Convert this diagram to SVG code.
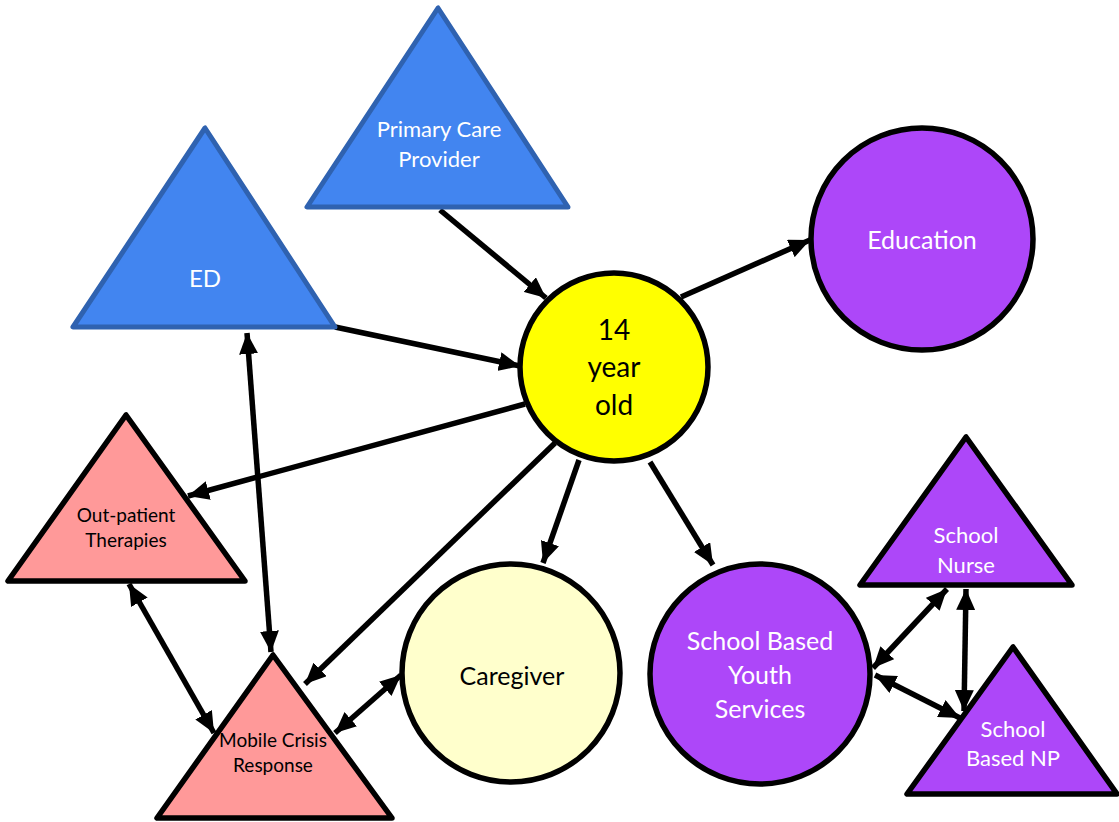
<svg xmlns="http://www.w3.org/2000/svg" width="1119" height="822" viewBox="0 0 1119 822">
<defs>
<marker id="ah" viewBox="0 0 21 19" refX="21" refY="9.5" markerWidth="21" markerHeight="19" markerUnits="userSpaceOnUse" orient="auto-start-reverse">
<path d="M0,0 L21,9.5 L0,19 Z" fill="#000"/>
</marker>
<style>
.blue{fill:#4285F0;stroke:#2F62B0;stroke-width:5;stroke-linejoin:round}
.pink{fill:#FF9999;stroke:#000;stroke-width:5.5;stroke-linejoin:round}
.purp{fill:#AD47F9;stroke:#000;stroke-width:5.5;stroke-linejoin:round}
.yel{fill:#FFFF00;stroke:#000;stroke-width:5.5}
.cream{fill:#FFFFCC;stroke:#000;stroke-width:5.5}
text{font-family:Lato,"Noto Sans",sans-serif;text-anchor:middle}
.w{fill:#fff}
.k{fill:#000}
.con line{stroke:#000;stroke-width:5.5;fill:none}
</style>
</defs>
<rect width="1119" height="822" fill="#fff"/>
<g id="connectors" class="con">
<line x1="440" y1="210" x2="546" y2="298" marker-end="url(#ah)"/>
<line x1="335" y1="327" x2="520" y2="366" marker-end="url(#ah)"/>
<line x1="681" y1="297" x2="810" y2="240" marker-end="url(#ah)"/>
<line x1="525" y1="404" x2="188" y2="496" marker-end="url(#ah)"/>
<line x1="555" y1="443" x2="305" y2="684" marker-end="url(#ah)"/>
<line x1="579" y1="460" x2="543" y2="563" marker-end="url(#ah)"/>
<line x1="650" y1="462" x2="713" y2="565" marker-end="url(#ah)"/>
<line x1="247" y1="333" x2="271" y2="652" marker-start="url(#ah)" marker-end="url(#ah)"/>
<line x1="129" y1="584" x2="214" y2="733" marker-start="url(#ah)" marker-end="url(#ah)"/>
<line x1="335" y1="733" x2="401" y2="675" marker-start="url(#ah)" marker-end="url(#ah)"/>
<line x1="873" y1="668" x2="947" y2="589" marker-start="url(#ah)" marker-end="url(#ah)"/>
<line x1="875" y1="675" x2="960" y2="718" marker-start="url(#ah)" marker-end="url(#ah)"/>
<line x1="966" y1="589" x2="964" y2="711" marker-start="url(#ah)" marker-end="url(#ah)"/>
</g>
<g id="pcp">
<polygon class="blue" points="438,8 307,207 568,207"/>
<text class="w" x="439" y="137" font-size="22">Primary Care</text>
<text class="w" x="439" y="167" font-size="22">Provider</text>
</g>
<g id="ed">
<polygon class="blue" points="205,128 73,327 335,327"/>
<text class="w" x="205" y="287" font-size="24">ED</text>
</g>
<g id="youth">
<circle class="yel" cx="614" cy="367" r="94"/>
<text class="k" x="614" y="340" font-size="28">14</text>
<text class="k" x="614" y="377" font-size="28">year</text>
<text class="k" x="614" y="415" font-size="28">old</text>
</g>
<g id="education">
<circle class="purp" cx="922" cy="239" r="111"/>
<text class="w" x="922" y="249" font-size="25">Education</text>
</g>
<g id="outpatient">
<polygon class="pink" points="126,415 8,581 245,581"/>
<text class="k" x="126" y="522" font-size="19">Out-patient</text>
<text class="k" x="126" y="547" font-size="19">Therapies</text>
</g>
<g id="mobilecrisis">
<polygon class="pink" points="273,655 157,818 392,818"/>
<text class="k" x="273" y="747" font-size="19">Mobile Crisis</text>
<text class="k" x="273" y="772" font-size="19">Response</text>
</g>
<g id="caregiver">
<circle class="cream" cx="511" cy="673" r="109"/>
<text class="k" x="512" y="685" font-size="25">Caregiver</text>
</g>
<g id="sbys">
<circle class="purp" cx="760" cy="674" r="110"/>
<text class="w" x="760" y="650" font-size="25">School Based</text>
<text class="w" x="760" y="684" font-size="25">Youth</text>
<text class="w" x="760" y="718" font-size="25">Services</text>
</g>
<g id="nurse">
<polygon class="purp" points="966,437 860,585 1072,585"/>
<text class="w" x="966" y="543" font-size="22">School</text>
<text class="w" x="966" y="573" font-size="22">Nurse</text>
</g>
<g id="np">
<polygon class="purp" points="1013,647 907,794 1117,794"/>
<text class="w" x="1013" y="737" font-size="22">School</text>
<text class="w" x="1013" y="766" font-size="22">Based NP</text>
</g>
</svg>
